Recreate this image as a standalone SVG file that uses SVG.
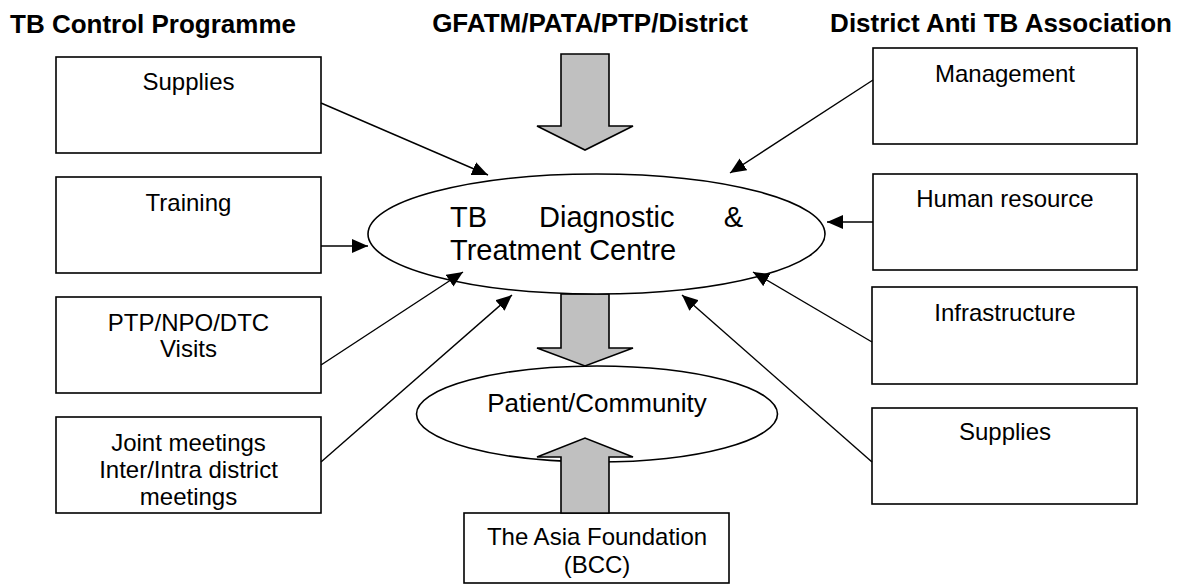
<svg xmlns="http://www.w3.org/2000/svg" width="1184" height="584" viewBox="0 0 1184 584">
  <style>
    .title { font-family: "Liberation Sans", Arial, sans-serif; font-weight: bold; font-size: 26px; fill: #000; }
    .lbl { font-family: "Liberation Sans", Arial, sans-serif; font-size: 24px; fill: #000; text-anchor: middle; }
    .big { font-family: "Liberation Sans", Arial, sans-serif; font-size: 29px; fill: #000; }
    .box { fill: #fff; stroke: #000; stroke-width: 1.6; }
    .oval { fill: #fff; stroke: #000; stroke-width: 1.6; }
    .block { fill: #c0c0c0; stroke: #000; stroke-width: 1.6; stroke-linejoin: miter; }
    .conn { stroke: #000; stroke-width: 1.4; fill: none; marker-end: url(#head); }
  </style>
  <defs>
    <marker id="head" markerUnits="userSpaceOnUse" markerWidth="17" markerHeight="14" refX="16" refY="7" orient="auto">
      <path d="M0,0 L16,7 L0,14 Z" fill="#000"/>
    </marker>
  </defs>

  <!-- column headings -->
  <g id="headings">
    <text class="title" x="10" y="33">TB Control Programme</text>
    <text class="title" x="748" y="32" text-anchor="end">GFATM/PATA/PTP/District</text>
    <text class="title" x="1172" y="32" text-anchor="end">District Anti TB Association</text>
  </g>

  <!-- broad block arrows -->
  <g id="block-arrows">
    <polygon class="block" points="561,54 609,54 609,126 633,126 585,150 537,126 561,126"/>
    <polygon class="block" points="561,294 609,294 609,348 633,348 585,366 537,348 561,348"/>
  </g>

  <!-- left column: TB Control Programme inputs -->
  <g id="left-supplies">
    <rect class="box" x="56" y="57" width="265" height="96"/>
    <text class="lbl" x="188.5" y="90">Supplies</text>
  </g>
  <g id="left-training">
    <rect class="box" x="56" y="177" width="265" height="96"/>
    <text class="lbl" x="188.5" y="211">Training</text>
  </g>
  <g id="left-visits">
    <rect class="box" x="56" y="297" width="265" height="96"/>
    <text class="lbl" x="188.5" y="331">PTP/NPO/DTC</text>
    <text class="lbl" x="188.5" y="357">Visits</text>
  </g>
  <g id="left-meetings">
    <rect class="box" x="56" y="417" width="265" height="96"/>
    <text class="lbl" x="188.5" y="451">Joint meetings</text>
    <text class="lbl" x="188.5" y="478">Inter/Intra district</text>
    <text class="lbl" x="188.5" y="505">meetings</text>
  </g>

  <!-- right column: District Anti TB Association inputs -->
  <g id="right-management">
    <rect class="box" x="873" y="48" width="264" height="96"/>
    <text class="lbl" x="1005" y="82">Management</text>
  </g>
  <g id="right-human-resource">
    <rect class="box" x="873" y="174" width="264" height="96"/>
    <text class="lbl" x="1005" y="207">Human resource</text>
  </g>
  <g id="right-infrastructure">
    <rect class="box" x="872" y="287" width="265" height="97"/>
    <text class="lbl" x="1005" y="321">Infrastructure</text>
  </g>
  <g id="right-supplies">
    <rect class="box" x="872" y="408" width="265" height="96"/>
    <text class="lbl" x="1005" y="440">Supplies</text>
  </g>

  <!-- centre -->
  <g id="centre">
    <ellipse class="oval" cx="596.5" cy="234" rx="228.5" ry="60"/>
    <text class="big" x="450" y="227">TB</text>
    <text class="big" x="539" y="227">Diagnostic</text>
    <text class="big" x="743" y="227" text-anchor="end">&amp;</text>
    <text class="big" x="450" y="260">Treatment Centre</text>
  </g>

  <g id="patient-community">
    <ellipse class="oval" cx="597" cy="414" rx="180.5" ry="48"/>
    <text class="lbl" x="597" y="412" style="font-size:26px">Patient/Community</text>
  </g>

  <g id="asia-foundation">
    <rect class="box" x="464" y="513" width="265" height="70"/>
    <text class="lbl" x="597" y="545">The Asia Foundation</text>
    <text class="lbl" x="597" y="573">(BCC)</text>
  </g>

  <g id="block-arrow-up">
    <polygon class="block" points="561,513 609,513 609,457 633,457 585,438 537,457 561,457"/>
  </g>

  <!-- connectors into the centre -->
  <g id="connectors">
    <line class="conn" x1="321" y1="103" x2="488" y2="175"/>
    <line class="conn" x1="321" y1="246" x2="368" y2="246"/>
    <line class="conn" x1="321" y1="365" x2="463" y2="272"/>
    <line class="conn" x1="321" y1="462" x2="512" y2="295"/>
    <line class="conn" x1="873" y1="80" x2="730" y2="173"/>
    <line class="conn" x1="873" y1="222" x2="827" y2="222"/>
    <line class="conn" x1="872" y1="342" x2="753" y2="272"/>
    <line class="conn" x1="872" y1="462" x2="682" y2="295"/>
  </g>
</svg>
